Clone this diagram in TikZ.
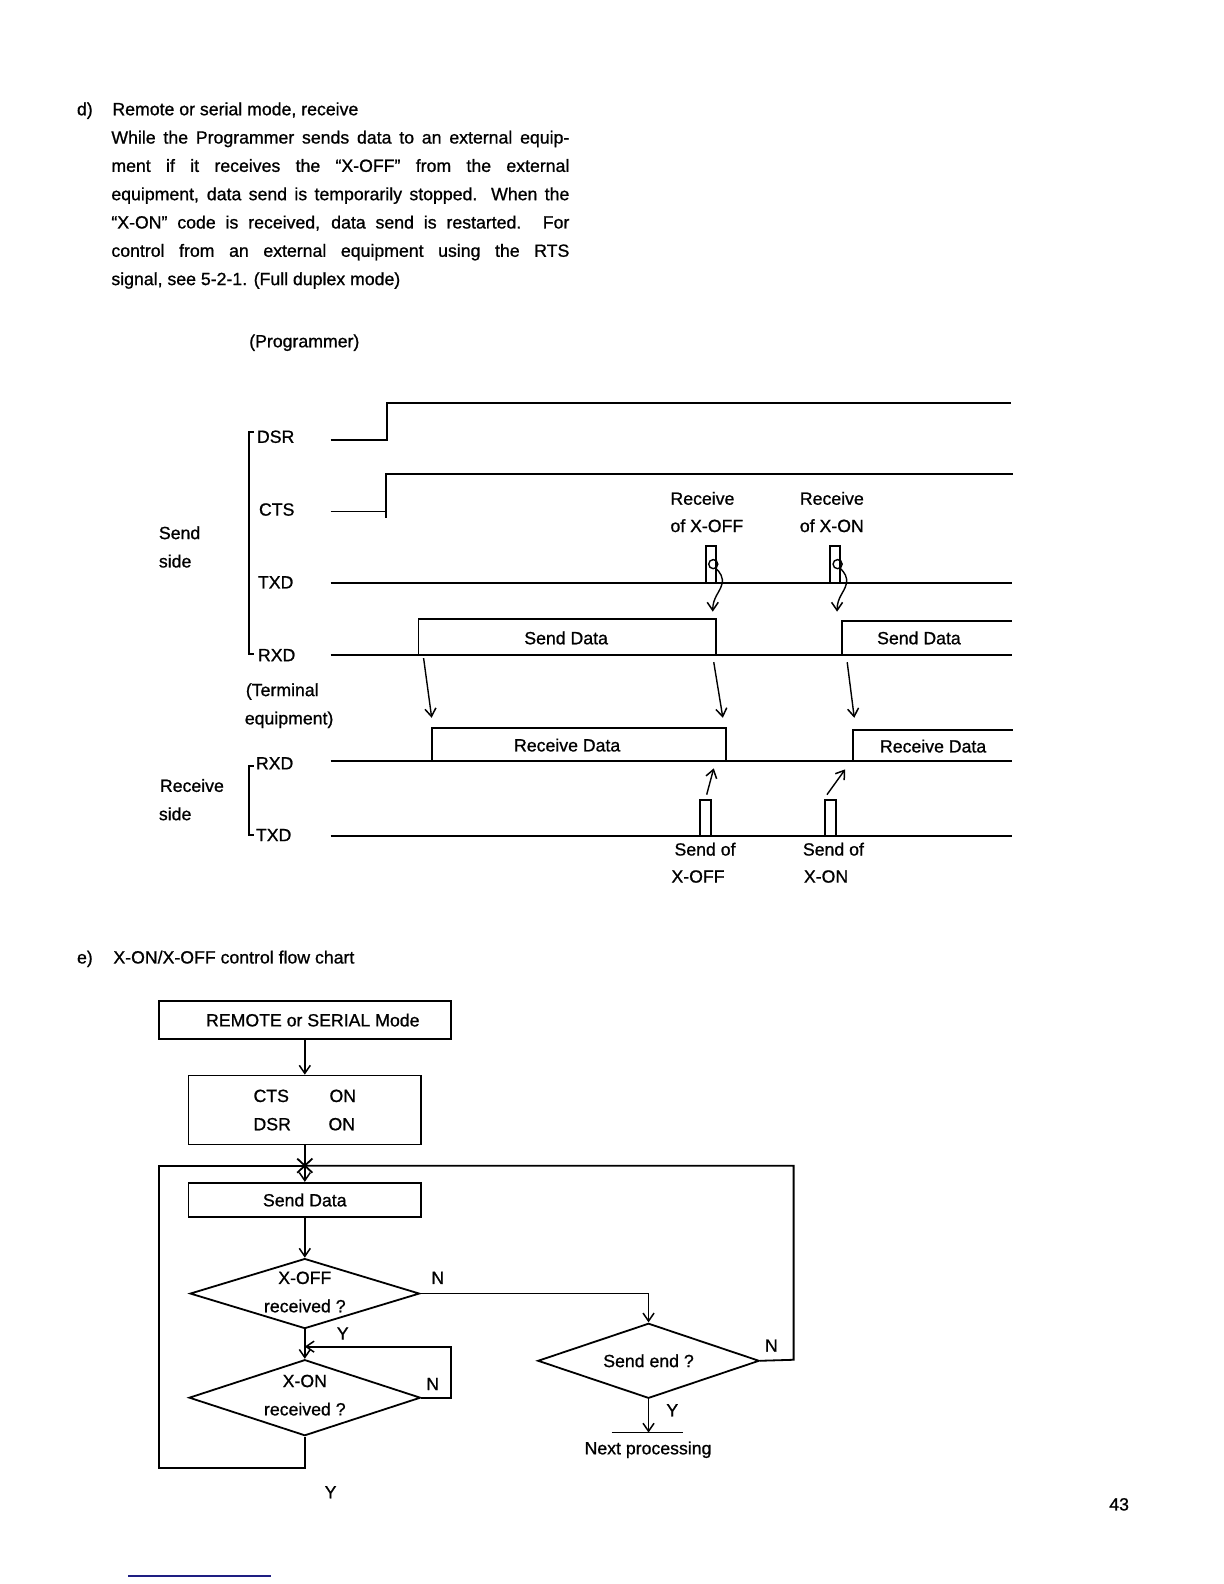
\documentclass[tikz,border=0pt]{standalone}
\usepackage{fontspec}
\setmainfont{Liberation Sans}[FakeBold=0.9]
\usetikzlibrary{arrows.meta,shapes.geometric}
\newcommand{\fsz}{\fontsize{17.7}{28.3}\selectfont}
\begin{document}
\begin{tikzpicture}[x=1.011pt,y=-1.011pt,
  ln/.style={line width=1.8pt},
  arr/.style={ln,-{Straight Barb[length=8pt,width=11pt,line width=1.5pt]}},
  txt/.style={inner sep=0pt,font=\fsz},
  tw/.style={txt,anchor=west},
  box/.style={draw,ln,inner sep=0pt,font=\fsz},
  dia/.style={draw,ln,diamond,inner sep=0pt,aspect=3}]
\useasboundingbox (0,0) rectangle (1210.7,1566.8);

% ---------- paragraph d)
\node[txt,anchor=base west] (dlab) at (76,114) {d)};
\node[txt,anchor=base west] (p0) at (111,114) {Remote or serial mode, receive};
\node[txt,anchor=base west] (p1) at (110,142) {\makebox[458pt][s]{While the Programmer sends data to an external equip-}};
\node[txt,anchor=base west] (p2) at (110,170) {\makebox[458pt][s]{ment if it receives the ``X-OFF'' from the external}};
\node[txt,anchor=base west] (p3) at (110,198) {\makebox[458pt][s]{equipment, data send is temporarily stopped. When the}};
\node[txt,anchor=base west] (p4) at (110,226) {\makebox[458pt][s]{``X-ON'' code is received, data send is restarted. For}};
\node[txt,anchor=base west] (p5) at (110,254) {\makebox[458pt][s]{control from an external equipment using the RTS}};
\node[txt,anchor=base west] (p6) at (110,282) {signal, see 5-2-1. (Full duplex mode)};

% ---------- timing diagram labels
\node[txt] (prog) at (301,339) {(Programmer)};
\node[tw] (ldsr) at (254,432) {DSR};
\node[tw] (lcts) at (256,504) {CTS};
\node[tw] (ltxd) at (255,576) {TXD};
\node[tw] (lrxd) at (255,648) {RXD};
\node[tw] (term1) at (243,684) {(Terminal};
\node[tw] (term2) at (242,712) {equipment)};
\node[tw] (lrxd2) at (253,755) {RXD};
\node[tw] (ltxd2) at (253,826) {TXD};
\node[tw] (send1) at (157,527) {Send};
\node[tw] (send2) at (157,555) {side};
\node[tw] (rec1) at (158,777) {Receive};
\node[tw] (rec2) at (157,805) {side};
\node[tw] (rxo1) at (663,493) {Receive};
\node[tw] (rxo2) at (663,520) {of X-OFF};
\node[tw] (rxn1) at (791,493) {Receive};
\node[tw] (rxn2) at (791,520) {of X-ON};
\node[tw] (sxo1) at (667,840) {Send of};
\node[tw] (sxo2) at (664,867) {X-OFF};
\node[tw] (sxn1) at (794,840) {Send of};
\node[tw] (sxn2) at (795,867) {X-ON};

% brackets
\draw[ln] (251,427) -- (246,427) -- (246,647) -- (251,647);
\draw[ln] (251,758) -- (246,758) -- (246,826) -- (251,826);

% DSR, CTS
\draw[ln] (327,435) -- (383,435) -- (383,399) -- (1000,399);
\draw[ln] (327,506) -- (382,506);
\draw[ln] (382,512) -- (382,469) -- (1002,469);

% TXD send side
\draw[ln] (327,577) -- (1001,577);
\draw[ln] (698,577) -- (698,540) -- (708,540) -- (708,577);
\draw[ln] (821,577) -- (821,540) -- (831,540) -- (831,577);
\draw[line width=1.4pt] (705.5,558) circle (4.5);
\draw[line width=1.4pt] (828.5,558) circle (4.5);
\draw[arr,line width=1.4pt] (708,562) .. controls (712,566) and (716,571) .. (714,578) .. controls (712,586) and (705,591) .. (705,605);
\draw[arr,line width=1.4pt] (831,562) .. controls (835,566) and (839,571) .. (837,578) .. controls (835,586) and (828,591) .. (828,605);

% RXD send side
\draw[ln] (327,648) -- (1001,648);
\draw[ln] (414,648) -- (414,612) -- (708,612) -- (708,648);
\draw[ln] (833,648) -- (833,614) -- (1001,614);
\node[txt] (sd1) at (560,631) {Send Data};
\node[txt] (sd2) at (909,631) {Send Data};

% transfer arrows
\draw[arr,line width=1.4pt] (419,651) -- (427,710);
\draw[arr,line width=1.4pt] (706,655) -- (715,710);
\draw[arr,line width=1.4pt] (838,655) -- (845,710);

% RXD receive side
\draw[ln] (327,753) -- (1001,753);
\draw[ln] (427,753) -- (427,720) -- (718,720) -- (718,753);
\draw[ln] (844,753) -- (844,722) -- (1002,722);
\node[txt] (rd1) at (561,737) {Receive Data};
\node[txt] (rd2) at (923,738) {Receive Data};

% TXD receive side
\draw[ln] (327,827) -- (1001,827);
\draw[ln] (692,827) -- (692,791) -- (703,791) -- (703,827);
\draw[ln] (816,827) -- (816,791) -- (827,791) -- (827,827);
\draw[arr,line width=1.4pt] (699,786) -- (706,760);
\draw[arr,line width=1.4pt] (818,786) -- (836,761);

% ---------- flow chart
\node[txt,anchor=base west] (elab) at (76,953) {e)};
\node[txt,anchor=base west] (etitle) at (112,953) {X-ON/X-OFF control flow chart};

\node[box,minimum width=292pt,minimum height=38pt] (remote) at (301.5,1009) {\hspace{16pt}REMOTE or SERIAL Mode};
\node[box,minimum width=232.5pt,minimum height=69pt,align=left] (ctsbox) at (301.5,1098) {\makebox[76pt][l]{CTS}ON\\\makebox[75pt][l]{DSR}ON};
\node[box,minimum width=232.5pt,minimum height=34.5pt] (senddata) at (301.5,1187) {Send Data};
\node[dia,minimum width=229.5pt,minimum height=70pt] (xoff) at (301.5,1279.5) {};
\node[txt,align=center] (xofft) at (301.5,1278) {X-OFF\\received ?};
\node[dia,minimum width=231.5pt,minimum height=76pt] (xon) at (301.5,1382.5) {};
\node[txt,align=center] (xont) at (301.5,1380) {X-ON\\received ?};
\node[dia,minimum width=221.5pt,minimum height=75pt] (sendend) at (641.5,1346) {};
\node[txt] (sendendt) at (641.5,1346) {Send end ?};
\node[txt] (next) at (641,1434) {Next processing};

\coordinate (junc) at (301.5,1153);
\coordinate (loopin) at (301.5,1332);
\coordinate (yleft) at (157,1452);
\coordinate (ytop) at (157,1153);
\coordinate (nright) at (785,1345);
\coordinate (ntop) at (785,1153);
\coordinate (barL) at (605,1417);
\coordinate (barR) at (676,1417);
\coordinate (barM) at (641.5,1417);

\draw[arr] (remote.south) -- (ctsbox.north);
\draw[arr] (ctsbox.south) -- (senddata.north);
\draw[ln] (294,1146) -- (309,1160);
\draw[ln] (309,1146) -- (294,1160);
\draw[arr] (senddata.south) -- (xoff.north);
\draw[arr] (xoff.east) -| (sendend.north);
\draw[arr] (xoff.south) -- (xon.north);
\draw[arr] (xon.east) -- ++(29,0) |- (loopin);
\draw[ln] (xon.south) |- (yleft) -- (ytop) -- (junc);
\draw[ln] (sendend.east) -- (nright) -- (ntop) -- (junc);
\draw[arr] (sendend.south) -- (barM);
\draw[ln] (barL) -- (barR);

\node[txt] (n1) at (433,1264) {N};
\node[txt] (y1) at (339,1319) {Y};
\node[txt] (n2) at (428,1369) {N};
\node[txt] (y2) at (327,1476) {Y};
\node[txt] (n3) at (763,1331) {N};
\node[txt] (y3) at (665,1395) {Y};

% page number and stray mark
\node[txt] (page) at (1107,1488) {43};
\draw[line width=2pt,color={rgb,255:red,30;green,30;blue,130}] (127,1559) -- (268,1559);
\end{tikzpicture}
\end{document}
